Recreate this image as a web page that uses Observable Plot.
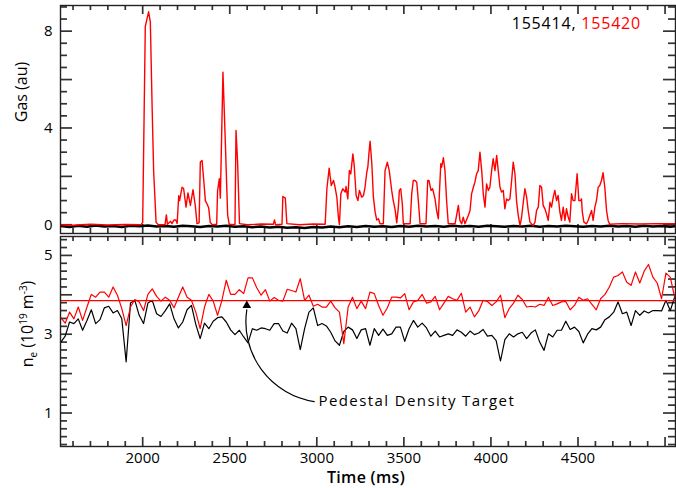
<!DOCTYPE html>
<html>
<head>
<meta charset="utf-8">
<script src="https://cdn.jsdelivr.net/npm/d3@7"></script>
<script src="https://cdn.jsdelivr.net/npm/@observablehq/plot@0.6"></script>
<style>
  body { margin: 0; background: #fff; }
  #chart { position: relative; width: 676px; height: 488px; background: #fff; font-family: "Open Sans", sans-serif; color: #000; overflow: hidden; }
  #top, #bottom { position: absolute; left: 0; }
  #top { top: 0; }
  #bottom { top: 234px; }
  .ylab { position: absolute; transform: translate(-50%, -50%) rotate(-90deg); white-space: nowrap; font-size: 16px; }
  .ylab sub, .ylab sup { font-size: 10px; }
  .xlab { position: absolute; transform: translate(-50%, -50%); font-size: 16px; font-weight: 600; white-space: nowrap; letter-spacing: 0.3px; }
  .legend { position: absolute; right: 35px; top: 12px; font-size: 16px; white-space: nowrap; letter-spacing: 0.8px; }
  svg g[aria-label="text"] text { letter-spacing: 1.4px; }
</style>
</head>
<body>
<div id="chart">
  <div id="top"></div>
  <div id="bottom"></div>
  <div class="ylab" style="left:21px; top:92px;">Gas (au)</div>
  <div class="ylab" style="left:28px; top:324px;">n<sub>e</sub> (10<sup>19</sup> m<sup>-3</sup>)</div>
  <div class="xlab" style="left:366px; top:477px;">Time (ms)</div>
  <div class="legend"><span style="color:#000">155414, </span><span style="color:#ff0000">155420</span></div>
</div>
<script>
// ---------- data ----------
const shotBlack = "155414";
const shotRed = "155420";

// Gas puff (au) for shot 155420 (red)
const gasRedTime = [1528,1600,1700,1800,1900,1990,
  2000,2015,2034,2044,2054,2063,2077,2090,
  2128,2136,2142,2160,2168,2180,2190,2198,
  2207,2212,2226,2235,2249,2260,2274,2289,2302,2312,2324,
  2331,2341,2350,2360,2369,2379,2388,2400,
  2425,2430,2440,2446,2461,2474,2488,2497,
  2530,2536,2545,2556,2600,2680,2750,2757,2763,2800,2805,2819,2828,2900,2980,3048,
  3058,3071,3083,3096,3105,3115,3124,3130,
  3138,3149,3163,3168,3178,3187,3195,3207,3214,3226,3236,3245,3258,3268,3277,3287,3293,3300,3306,3316,3325,3335,3344,3354,3363,3382,
  3392,3405,3416,3430,3439,3449,3459,3468,3474,3482,3491,3497,3536,
  3545,3554,3564,3574,3583,3593,3627,
  3637,3644,3656,3665,3679,3688,3698,3704,3712,3717,3727,3736,3746,3755,3794,
  3813,3822,3832,3841,3851,3870,3880,3889,3899,3908,3918,3927,3937,3947,3956,3966,3975,3985,3994,4004,4013,4023,4033,4042,4052,4061,4071,4080,4090,4099,4109,4119,4128,4138,4147,4157,4167,4176,4185,4195,4205,4214,4224,4243,4253,4262,4272,4281,4291,4300,4310,4319,4329,4339,4348,4358,4367,4377,4386,4396,4405,4415,4425,4434,4444,4453,4463,4472,4482,4495,4505,4515,4520,4525,4534,4549,4558,4568,4578,4587,4597,4606,4616,4625,4635,4644,4654,4664,4673,4682,
  4750,4850,4950,5060];
const gasRed = [0.0,-0.02,0.02,-0.01,0.01,0.0,
  0.1,8.2,8.8,8.37,4.93,2.2,0.1,0.0,
  0.0,0.41,0.02,0.15,0.05,0.2,0.2,0.05,
  1.2,1.0,1.55,1.5,0.73,1.32,0.8,1.45,0.8,0.05,0.08,
  2.59,2.66,1.9,1.0,0.87,0.7,0.1,0.0,
  0.02,1.4,1.9,1.1,6.3,3.55,0.4,0.02,
  0.0,3.9,2.6,0.05,0.0,0.03,0.02,0.2,0.0,0.02,1.17,1.1,0.05,0.0,0.03,0.02,
  1.5,2.34,1.62,1.83,1.55,1.14,0.31,0.0,
  1.28,1.49,1.35,1.58,1.07,2.24,2.1,2.93,2.52,1.21,1.0,1.42,1.14,1.21,1.55,2.17,2.38,3.0,3.45,2.52,1.14,0.52,0.2,0.25,0.04,0.04,
  2.24,2.59,2.24,1.42,1.0,0.66,0.08,0.7,1.42,1.49,0.87,0.04,0.04,
  1.28,1.83,1.83,1.76,1.0,0.04,0.04,
  1.83,1.83,1.42,1.49,1.07,0.59,0.25,1.28,2.52,2.38,2.77,2.24,0.93,0.04,0.04,
  0.8,0.18,0.04,0.31,0.04,0.38,0.59,1.28,1.55,1.76,2.11,2.24,3.0,2.24,1.28,0.73,1.69,1.42,1.55,2.24,2.73,2.24,2.86,2.24,1.55,1.35,1.42,0.66,1.07,1.0,1.07,1.83,2.59,2.11,1.0,0.38,-0.03,0.31,0.87,1.49,1.14,0.59,0.11,-0.03,0.11,0.59,0.73,1.62,1.55,0.8,0.66,0.45,0.18,0.93,0.73,1.14,1.42,1.0,1.21,0.52,0.18,0.73,0.18,0.66,0.31,0.11,1.28,1.0,1.0,2.11,1.0,1.0,1.07,0.52,0.11,0.04,0.18,0.38,0.59,0.18,0.73,1.0,1.55,1.62,1.83,2.15,1.55,0.59,0.18,0.02,
  0.05,0.03,0.05,0.04];

// Gas for shot 155414 (black) – near zero
const gasBlackTime = [1528,1580,1630,1680,1730,1780,1830,1880,1930,1980,2030,2080,2130,2180,2230,2280,2330,2380,2430,2480,2530,2580,2630,2680,2730,2780,2830,2880,2930,2980,3030,3080,3130,3180,3230,3280,3330,3380,3430,3480,3530,3580,3630,3680,3730,3780,3830,3880,3930,3980,4030,4080,4130,4180,4230,4280,4330,4380,4430,4480,4530,4580,4630,4680,4730,4780,4830,4880,4930,4980,5030,5060];
const gasBlack = [-0.05,-0.09,-0.04,-0.08,-0.03,-0.07,-0.05,-0.09,-0.04,-0.06,-0.03,-0.07,-0.05,-0.08,-0.04,-0.06,-0.09,-0.05,-0.07,-0.04,-0.08,-0.06,-0.1,-0.07,-0.11,-0.08,-0.12,-0.1,-0.13,-0.09,-0.11,-0.07,-0.1,-0.06,-0.09,-0.05,-0.08,-0.06,-0.09,-0.05,-0.08,-0.04,-0.07,-0.05,-0.08,-0.04,-0.07,-0.05,-0.08,-0.04,-0.06,-0.08,-0.05,-0.07,-0.04,-0.08,-0.05,-0.07,-0.04,-0.06,-0.08,-0.05,-0.07,-0.04,-0.07,-0.05,-0.08,-0.04,-0.07,-0.05,-0.08,-0.06];

// Density (10^19 m^-3)
const neTime = [1530,1555,1580,1605,1630,1655,1680,1705,1730,1755,
  1780,1805,1830,1855,1880,1905,1930,1955,1980,2005,
  2030,2055,2080,2105,2130,2155,2180,2205,2230,2255,
  2280,2305,2330,2355,2380,2405,2430,2455,2480,2505,
  2530,2555,2580,2605,2630,2655,2680,2705,2730,2755,
  2780,2805,2830,2855,2880,2905,2930,2955,2980,3005,
  3030,3055,3080,3105,3130,3155,3180,3205,3230,3255,
  3280,3305,3330,3355,3380,3405,3430,3455,3480,3505,
  3530,3555,3580,3605,3630,3655,3680,3705,3730,3755,
  3780,3805,3830,3855,3880,3905,3930,3955,3980,4005,
  4030,4055,4080,4105,4130,4155,4180,4205,4230,4255,
  4280,4305,4330,4355,4380,4405,4430,4455,4480,4505,
  4530,4555,4580,4605,4630,4655,4680,4705,4730,4755,
  4780,4805,4830,4855,4880,4905,4930,4955,4980,5005,
  5030,5055];
const neRed = [3.42,3.28,3.56,3.39,3.69,3.35,3.69,4.01,3.94,4.07,
  4.07,3.94,4.20,3.99,3.65,3.22,3.69,3.88,3.82,3.60,
  4.01,4.15,3.96,3.84,3.94,3.86,3.67,3.94,4.20,3.94,
  3.86,3.56,3.14,3.69,4.01,3.84,3.48,3.86,4.37,4.01,
  4.01,4.13,4.03,4.43,4.43,4.18,3.99,4.13,3.84,3.93,
  3.86,3.84,4.14,4.11,4.07,4.41,3.86,3.99,3.71,3.76,
  3.69,3.69,3.84,3.67,3.56,2.76,3.69,3.94,3.65,3.84,
  3.65,4.07,4.03,3.73,3.48,3.67,3.94,3.94,3.92,4.03,
  3.62,3.82,3.86,4.01,3.79,3.82,3.96,3.62,3.79,3.96,
  3.90,3.86,4.04,3.56,3.69,3.44,3.59,3.86,3.83,3.73,
  3.82,3.99,3.42,3.65,3.79,3.99,3.88,3.69,3.71,3.69,
  3.76,3.73,3.94,3.73,3.77,3.82,3.83,3.62,3.73,3.94,
  3.86,3.90,3.76,3.62,3.90,4.01,4.20,4.45,4.49,4.58,
  4.32,4.24,4.58,4.30,4.60,4.77,4.45,4.30,3.90,4.55,
  4.45,3.94];
const neBlack = [2.80,2.95,3.31,3.27,3.39,3.10,3.35,3.62,3.27,3.37,
  3.67,3.71,3.54,3.60,3.39,2.30,3.79,3.86,3.48,3.27,
  3.79,3.86,3.52,3.45,3.60,3.77,3.39,3.16,3.31,3.62,
  3.73,3.25,2.89,3.28,3.14,3.33,3.42,3.44,3.31,3.11,
  2.99,3.10,2.93,2.78,3.14,3.10,3.16,3.14,3.10,3.27,
  3.27,3.08,3.03,3.28,3.14,2.61,3.14,3.56,3.67,3.22,
  3.27,3.21,3.05,2.83,2.72,3.07,3.18,3.11,2.89,3.11,
  3.14,2.72,3.14,2.97,3.13,2.97,3.01,3.18,3.18,2.82,
  3.14,3.35,3.18,3.28,3.16,2.95,3.08,2.93,2.97,3.01,
  2.97,3.11,3.05,2.95,3.08,2.99,3.03,3.12,2.95,2.97,
  2.84,2.32,2.86,3.01,2.93,3.01,3.05,2.89,3.03,3.11,
  2.80,2.59,3.01,2.93,3.10,3.10,3.33,3.12,3.18,3.07,
  2.78,3.00,3.14,3.11,3.18,3.37,3.44,3.56,3.82,3.52,
  3.56,3.22,3.60,3.48,3.59,3.54,3.60,3.60,3.59,3.86,
  3.60,3.94];

const neTarget = 3.85;
const annotationText = "Pedestal Density Target";
const annotation = [{x1: 2985, y1: 1.29, x2: 2598, y2: 3.62, tipY: 3.73}];

// ticks
const xLabels = [2000, 2500, 3000, 3500, 4000, 4500];
const xMajor = [2000, 2500, 3000, 3500, 4000, 4500, 5000];
const xMinor = [1600,1700,1800,1900,2100,2200,2300,2400,2600,2700,2800,2900,3100,3200,3300,3400,3600,3700,3800,3900,4100,4200,4300,4400,4600,4700,4800,4900];
const gasLabels = [0, 4, 8];
const gasMajor = [0, 2, 4, 6, 8];
const gasMinor = [0.5,1,1.5,2.5,3,3.5,4.5,5,5.5,6.5,7,7.5,8.5,9];
const neLabels = [1, 3, 5];
const neMajor = [1, 2, 3, 4, 5];
const neMinor = [0.2,0.4,0.6,0.8,1.2,1.4,1.6,1.8,2.2,2.4,2.6,2.8,3.2,3.4,3.6,3.8,4.2,4.4,4.6,4.8,5.2,5.4];

// ---------- drawing ----------
const RED = "#ff0000";
const W = 676;
const ML = 60, MR = 1;
const FW = W - ML - MR;            // frame width
const xDomain = [1528, 5060];
const fmtInt = d => String(d);
const tk = {stroke: "#333", strokeWidth: 1.7};

// inward ticks on all four sides: tick marks shortened by insets
function boxTicks(yMajor, yMinor, FH) {
  return [
    Plot.tickX(xMajor, {x: d => d, insetTop: FH - 9, ...tk}),
    Plot.tickX(xMinor, {x: d => d, insetTop: FH - 5, ...tk}),
    Plot.tickX(xMajor, {x: d => d, insetBottom: FH - 9, ...tk}),
    Plot.tickX(xMinor, {x: d => d, insetBottom: FH - 5, ...tk}),
    Plot.tickY(yMajor, {y: d => d, insetRight: FW - 12, ...tk}),
    Plot.tickY(yMinor, {y: d => d, insetRight: FW - 7, ...tk}),
    Plot.tickY(yMajor, {y: d => d, insetLeft: FW - 12, ...tk}),
    Plot.tickY(yMinor, {y: d => d, insetLeft: FW - 7, ...tk})
  ];
}

const common = {
  width: W,
  marginLeft: ML,
  marginRight: MR,
  style: {fontFamily: "Open Sans, sans-serif", fontSize: "15px", background: "transparent", overflow: "visible"}
};

const topH = 236, topMT = 5, topMB = 3;
const topPlot = Plot.plot({
  ...common,
  height: topH,
  marginTop: topMT,
  marginBottom: topMB,
  x: {domain: xDomain, axis: null},
  y: {domain: [-0.36, 9.06], axis: null},
  marks: [
    ...boxTicks(gasMajor, gasMinor, topH - topMT - topMB),
    Plot.lineY(gasBlack, {x: gasBlackTime, stroke: "#000", strokeWidth: 2.4, clip: true}),
    Plot.lineY(gasRed, {x: gasRedTime, stroke: RED, strokeWidth: 1.4, clip: true}),
    Plot.axisY({anchor: "left", ticks: gasLabels, tickSize: 0, tickPadding: 8, tickFormat: fmtInt, label: null, fontSize: 15}),
    Plot.frame({stroke: "#222", strokeWidth: 1.4})
  ]
});
document.getElementById("top").appendChild(topPlot);

const botH = 254, botMT = 2, botMB = 42;
const bottomPlot = Plot.plot({
  ...common,
  height: botH,
  marginTop: botMT,
  marginBottom: botMB,
  x: {domain: xDomain, axis: null},
  y: {domain: [0.15, 5.48], axis: null},
  marks: [
    ...boxTicks(neMajor, neMinor, botH - botMT - botMB),
    Plot.lineY(neBlack, {x: neTime, stroke: "#000", strokeWidth: 1.2, clip: true}),
    Plot.lineY(neRed, {x: neTime, stroke: RED, strokeWidth: 1.2, clip: true}),
    Plot.ruleY([neTarget], {stroke: RED, strokeWidth: 1.3}),
    Plot.arrow(annotation, {x1: "x1", y1: "y1", x2: "x2", y2: "y2", bend: 45, headLength: 0, stroke: "#000", strokeWidth: 1.2}),
    Plot.dot(annotation, {x: "x2", y: "tipY", symbol: "triangle", r: 3.2, fill: "#000", stroke: "none"}),
    Plot.text([annotationText], {x: annotation[0].x1 + 25, y: annotation[0].y1, text: d => d, textAnchor: "start", fontSize: 15, fill: "#000"}),
    Plot.axisY({anchor: "left", ticks: neLabels, tickSize: 0, tickPadding: 8, tickFormat: fmtInt, label: null, fontSize: 15}),
    Plot.axisX({anchor: "bottom", ticks: xLabels, tickSize: 0, tickPadding: 6, tickFormat: fmtInt, label: null, fontSize: 15}),
    Plot.frame({stroke: "#222", strokeWidth: 1.4})
  ]
});
document.getElementById("bottom").appendChild(bottomPlot);
</script>
</body>
</html>
